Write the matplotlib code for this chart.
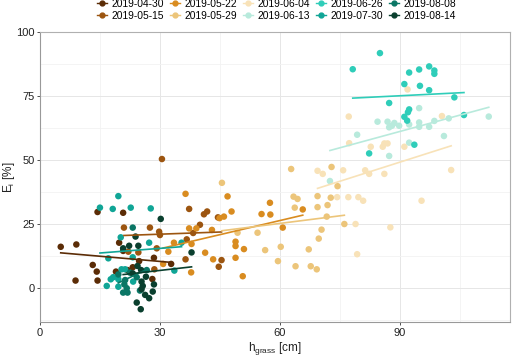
import numpy as np
import matplotlib
matplotlib.use("Agg")
import matplotlib.pyplot as plt
from matplotlib.lines import Line2D
from matplotlib.ticker import MultipleLocator

plt.rcParams['font.family'] = ['Liberation Sans', 'DejaVu Sans']

dates = ["2019-04-30", "2019-05-15", "2019-05-22", "2019-05-29", "2019-06-04",
         "2019-06-13", "2019-06-26", "2019-07-30", "2019-08-08", "2019-08-14"]
colors = ["#5b2c06", "#9c5510", "#d98c20", "#ecc57a", "#f8e2b8",
          "#b8eadc", "#2fcdb9", "#10a596", "#0a7665", "#0a3f2e"]

x_0430 = [5.2, 9.1, 8.9, 13.2, 14.2, 14.4, 14.4, 20.8, 19.8, 20.8, 19.0, 23.2, 21.9, 28.5, 32.8, 28.1, 24.8]
y_0430 = [16.1, 17.0, 2.9, 9.0, 6.4, 2.9, 29.7, 29.4, 17.7, 14.5, 6.4, 8.1, 7.0, 11.8, 9.4, 3.5, 10.5]

x_0515 = [21.0, 27.5, 29.8, 30.0, 30.5, 28.6, 37.3, 41.0, 41.8, 40.0, 38.3, 36.7, 36.4, 44.7, 45.4, 44.5, 22.1, 24.6, 29.2]
y_0515 = [23.6, 23.6, 22.0, 20.7, 50.4, 7.3, 30.9, 28.8, 29.9, 24.7, 21.5, 19.0, 11.2, 8.3, 10.9, 27.6, 14.2, 13.9, 15.5]

x_0522 = [30.8, 32.1, 36.4, 46.9, 44.9, 46.0, 55.4, 57.6, 57.5, 60.7, 65.7, 43.0, 37.3, 39.1, 37.9,
          41.3, 43.3, 48.9, 48.9, 51.0, 48.9, 37.8, 50.7, 33.5, 47.9]
y_0522 = [9.4, 14.2, 36.8, 35.8, 27.3, 27.9, 28.9, 28.7, 33.3, 23.6, 30.7, 22.7, 23.3, 23.3, 17.2,
          13.8, 11.2, 18.1, 16.4, 15.2, 11.8, 6.1, 4.6, 17.7, 29.9]

x_0529 = [45.5, 49.4, 54.4, 56.3, 60.2, 62.8, 72.9, 74.4, 63.4, 64.4, 69.4, 72.7, 63.7, 69.4, 71.9,
          71.7, 76.1, 70.4, 69.7, 67.2, 63.9, 67.7, 69.2, 59.5]
y_0529 = [41.1, 21.6, 21.6, 14.8, 16.1, 46.5, 47.3, 39.8, 35.7, 34.8, 35.9, 35.3, 31.4, 31.6, 32.4,
          27.9, 25.0, 22.8, 19.3, 15.1, 8.5, 8.5, 7.3, 10.5]

x_0604 = [69.4, 70.7, 75.8, 81.3, 82.3, 86.1, 74.3, 77.1, 79.6, 80.8, 78.9, 87.6, 79.3, 91.9, 77.2,
          100.5, 77.3, 82.7, 85.7, 86.1, 86.9, 91.1, 102.8, 95.4]
y_0604 = [45.8, 44.6, 46.0, 46.0, 44.6, 44.6, 35.5, 35.5, 35.5, 34.1, 25.0, 23.7, 13.2, 77.6, 67.0,
          67.2, 56.6, 55.2, 55.2, 56.5, 56.5, 55.2, 46.1, 34.1]

x_0613 = [94.8, 84.4, 86.9, 88.6, 87.3, 88.0, 89.8, 92.3, 94.8, 94.8, 97.3, 98.6, 102.2, 112.2,
          101.0, 92.3, 79.3, 87.3, 72.5]
y_0613 = [70.3, 65.0, 65.0, 64.5, 62.8, 63.4, 63.4, 63.9, 64.7, 63.0, 63.0, 65.3, 66.3, 67.0,
          59.4, 56.8, 59.9, 51.6, 41.8]

x_0626 = [85.0, 78.2, 92.3, 94.8, 97.3, 98.6, 98.6, 91.1, 95.0, 97.3, 103.6, 87.3, 92.3, 92.0,
          91.1, 91.8, 106.0, 93.6, 82.3]
y_0626 = [91.8, 85.5, 84.2, 85.4, 86.6, 85.0, 83.7, 79.7, 79.0, 77.3, 74.5, 72.3, 69.8, 68.7,
          66.9, 65.4, 67.6, 56.0, 52.6]

x_0730 = [19.6, 15.0, 18.2, 22.7, 20.2, 27.3, 17.1, 23.2, 35.4, 33.6, 20.4, 21.3, 18.3, 17.7,
          16.7, 19.6, 23.3, 19.6, 27.7]
y_0730 = [35.9, 31.4, 30.9, 31.4, 19.8, 17.7, 11.6, 12.0, 17.7, 6.8, 7.3, 7.3, 4.2, 3.4,
          0.8, 3.4, 2.5, 0.5, 31.1]

x_0808 = [23.2, 21.1, 21.7, 20.8, 21.9, 24.2, 21.3, 19.6, 26.7, 22.5, 25.0]
y_0808 = [23.6, 1.4, -0.1, -1.8, -1.8, 4.2, 3.1, 5.3, 7.0, 6.0, -1.0]

x_0814 = [23.9, 24.6, 20.8, 37.9, 28.5, 28.2, 27.3, 26.3, 25.4, 25.7, 25.4, 26.5,
          25.3, 24.2, 25.2, 24.4, 23.2, 22.3, 30.2]
y_0814 = [20.1, 16.5, 15.5, 13.9, 1.4, -1.4, -4.0, -2.7, -0.5, 0.8, 2.5, 4.4,
          7.0, -5.7, -8.3, 8.6, 5.7, 16.5, 27.0]

xs = [x_0430, x_0515, x_0522, x_0529, x_0604, x_0613, x_0626, x_0730, x_0808, x_0814]
ys = [y_0430, y_0515, y_0522, y_0529, y_0604, y_0613, y_0626, y_0730, y_0808, y_0814]

fig = plt.figure(figsize=(5.12, 3.57), dpi=100)
ax = fig.add_axes([0.078, 0.098, 0.918, 0.812])

for x, y, c in zip(xs, ys, colors):
    ax.scatter(x, y, s=22, color=c, edgecolors='none', zorder=3)
for x, y, c in zip(xs, ys, colors):
    x = np.asarray(x); y = np.asarray(y)
    k, b = np.polyfit(x, y, 1)
    xx = np.array([x.min(), x.max()])
    ax.plot(xx, k * xx + b, color=c, lw=1.2, zorder=4)

ax.set_xlim(0, 117.5)
ax.set_ylim(-13.3, 100)
ax.xaxis.set_major_locator(MultipleLocator(30))
ax.xaxis.set_minor_locator(MultipleLocator(15))
ax.yaxis.set_major_locator(MultipleLocator(25))
ax.yaxis.set_minor_locator(MultipleLocator(12.5))
ax.grid(True, which='major', color='#e6e6e6', lw=0.7)
ax.grid(True, which='minor', color='#f2f2f2', lw=0.6)
ax.set_axisbelow(True)
for s in ['top', 'right']:
    ax.spines[s].set_color('#b0b0b0')
for s in ['left', 'bottom']:
    ax.spines[s].set_color('#999999')
for s in ax.spines.values():
    s.set_linewidth(0.8)
ax.tick_params(which='major', length=2.5, width=0.6, color='#333333', labelsize=8, labelcolor='#222222', pad=1.5)
ax.tick_params(which='minor', length=0)

ax.set_xlabel(r"h$_\mathregular{grass}$ [cm]", fontsize=8.5, labelpad=2, color='#222222')
ax.set_ylabel(r"E$_\mathregular{i}$ [%]", fontsize=8.5, labelpad=0, color='#222222')
ax.yaxis.set_label_coords(-0.048, 0.5)

handles = [Line2D([0], [0], color=c, marker='o', markersize=3.5, lw=1.0) for c in colors]
fig.legend(handles, dates, loc='upper center', bbox_to_anchor=(0.54, 1.02), ncol=5,
           frameon=False, fontsize=7.4, handlelength=1.0, handletextpad=0.4,
           columnspacing=0.6, labelspacing=0.15, borderaxespad=0.2)

fig.savefig("out.png", dpi=100)
